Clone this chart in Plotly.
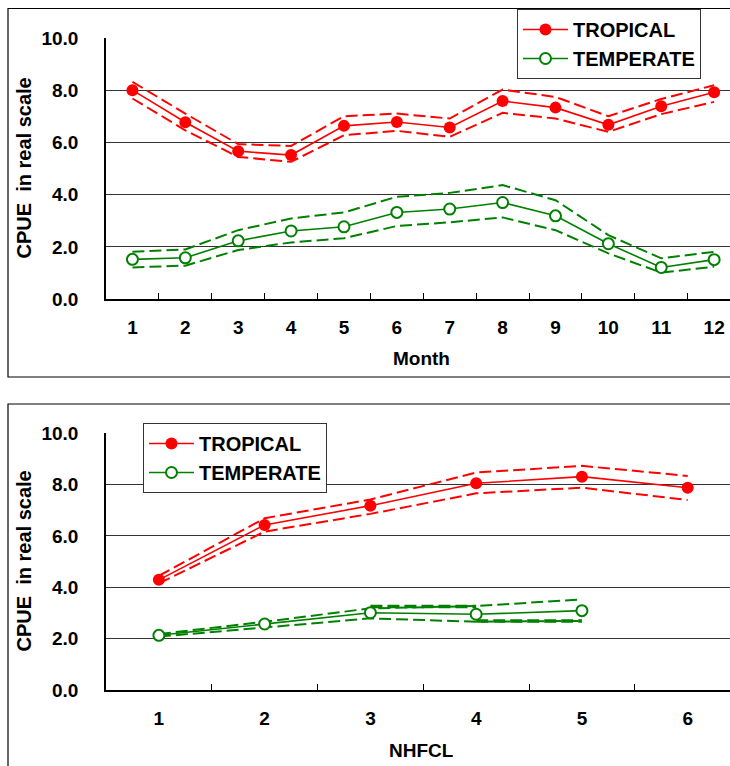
import plotly.graph_objects as go

# ---------------- data ----------------
months = [1, 2, 3, 4, 5, 6, 7, 8, 9, 10, 11, 12]
trop_month = [8.01, 6.78, 5.67, 5.52, 6.64, 6.79, 6.58, 7.59, 7.34, 6.68, 7.39, 7.93]
trop_month_up = [8.33, 7.11, 5.94, 5.87, 7.01, 7.11, 6.92, 8.03, 7.75, 7.01, 7.67, 8.20]
trop_month_lo = [7.69, 6.47, 5.45, 5.26, 6.28, 6.45, 6.22, 7.14, 6.92, 6.41, 7.09, 7.56]
temp_month = [1.52, 1.58, 2.23, 2.61, 2.77, 3.32, 3.45, 3.70, 3.19, 2.12, 1.21, 1.51]
temp_month_up = [1.81, 1.90, 2.64, 3.09, 3.32, 3.92, 4.07, 4.37, 3.79, 2.45, 1.56, 1.81]
temp_month_lo = [1.21, 1.28, 1.88, 2.17, 2.33, 2.80, 2.94, 3.13, 2.64, 1.75, 1.01, 1.24]

nhfcl_trop = [1, 2, 3, 4, 5, 6]
trop_nh = [4.29, 6.43, 7.18, 8.05, 8.31, 7.88]
trop_nh_up = [4.45, 6.69, 7.42, 8.47, 8.73, 8.34]
trop_nh_lo = [4.15, 6.17, 6.86, 7.66, 7.88, 7.40]
nhfcl_temp = [1, 2, 3, 4, 5]
temp_nh = [2.13, 2.57, 3.01, 2.95, 3.09]
temp_nh_up = [2.18, 2.66, 3.18, 3.27, 3.53]
temp_nh_lo = [2.08, 2.44, 2.79, 2.66, 2.69]
temp_nh_extra_up = [None, None, 3.25, 3.25, None]
temp_nh_extra_lo = [None, None, None, 2.69, 2.69]

y_ticks = [0, 2, 4, 6, 8, 10]

RED = "#FF0000"
GREEN = "#008000"
FONT = "Liberation Sans, Arial, sans-serif"
W, H = 730, 766


def px_x(p):
    return p / W


def px_y(p):
    return 1 - p / H


def cat(vals):
    return [str(v) for v in vals]


DASH = "12px,5px"

fig = go.Figure()


def add_panel(xs_r, r, ru, rl, xs_g, g, gu, gl, xa, ya, leg):
    xs_r, xs_g = cat(xs_r), cat(xs_g)
    for xs, ys, col in ((xs_r, ru, RED), (xs_r, rl, RED), (xs_g, gu, GREEN), (xs_g, gl, GREEN)):
        fig.add_trace(go.Scatter(x=xs, y=ys, mode="lines", line=dict(color=col, width=2, dash=DASH),
                                 showlegend=False, xaxis=xa, yaxis=ya, hoverinfo="skip"))
    fig.add_trace(go.Scatter(x=xs_r, y=r, mode="lines+markers", name="TROPICAL",
                             line=dict(color=RED, width=1.6),
                             marker=dict(symbol="circle", size=12, color=RED),
                             legend=leg, xaxis=xa, yaxis=ya))
    fig.add_trace(go.Scatter(x=xs_g, y=g, mode="lines+markers", name="TEMPERATE",
                             line=dict(color=GREEN, width=1.6),
                             marker=dict(symbol="circle", size=11, color="white",
                                         line=dict(width=2, color=GREEN)),
                             legend=leg, xaxis=xa, yaxis=ya))


add_panel(months, trop_month, trop_month_up, trop_month_lo,
          months, temp_month, temp_month_up, temp_month_lo, "x", "y", "legend")

# extra thick dashed segments in lower panel
for ys in (temp_nh_extra_up, temp_nh_extra_lo):
    fig.add_trace(go.Scatter(x=cat(nhfcl_temp), y=ys, mode="lines",
                             line=dict(color=GREEN, width=3.5, dash=DASH),
                             showlegend=False, xaxis="x2", yaxis="y2", hoverinfo="skip"))
add_panel(nhfcl_trop, trop_nh, trop_nh_up, trop_nh_lo,
          nhfcl_temp, temp_nh, temp_nh_up, temp_nh_lo, "x2", "y2", "legend2")

tickfont = dict(family=FONT, size=19, color="black", weight="bold")


def xaxis_cfg(cats, right, anchor):
    return dict(domain=[px_x(106), 1], type="category",
                categoryorder="array", categoryarray=cat(cats),
                range=[-0.5, right], anchor=anchor,
                showgrid=False, zeroline=False, showline=True, linecolor="black", linewidth=1.5,
                tickson="boundaries", ticks="inside", ticklen=6, tickcolor="black", tickwidth=1.2,
                tickfont=tickfont, ticklabelstandoff=10, automargin=False)


def yaxis_cfg(dom, anchor):
    return dict(domain=dom, anchor=anchor, range=[0, 10.01], tickvals=y_ticks, tickformat=".1f",
                showgrid=True, gridcolor="#333333", gridwidth=1, zeroline=False, showline=True,
                linecolor="black", linewidth=1.5, ticks="", tickfont=tickfont,
                ticklabelstandoff=22, automargin=False)


leg_font = dict(family=FONT, size=20, color="black", weight="bold")

fig.update_layout(
    width=W, height=H, margin=dict(l=0, r=0, t=0, b=0, autoexpand=False),
    paper_bgcolor="white", plot_bgcolor="white",
    font=dict(family=FONT, color="black"),
    xaxis=xaxis_cfg(months, 11.30, "y"),
    yaxis=yaxis_cfg([px_y(299), px_y(38)], "x"),
    xaxis2=xaxis_cfg(nhfcl_trop, 5.40, "y2"),
    yaxis2=yaxis_cfg([px_y(690), px_y(433)], "x2"),
    legend=dict(x=px_x(517), y=px_y(9), xanchor="left", yanchor="top",
                bgcolor="white", bordercolor="#333333", borderwidth=1,
                font=leg_font, tracegroupgap=0, itemwidth=45),
    legend2=dict(x=px_x(143), y=px_y(423), xanchor="left", yanchor="top",
                 bgcolor="white", bordercolor="#333333", borderwidth=1,
                 font=leg_font, tracegroupgap=0, itemwidth=45),
    shapes=[
        dict(type="rect", xref="paper", yref="paper", x0=px_x(8), x1=1.05,
             y0=px_y(377), y1=px_y(8.5), line=dict(color="black", width=1.2), layer="below"),
        dict(type="rect", xref="paper", yref="paper", x0=px_x(8), x1=1.05,
             y0=-0.05, y1=px_y(404), line=dict(color="black", width=1.2), layer="below"),
    ],
    annotations=[
        dict(text="CPUE  in real scale", xref="paper", yref="paper", x=px_x(23), y=px_y(168.5),
             xanchor="center", yanchor="middle",
             textangle=-90, showarrow=False, font=dict(family=FONT, size=20, weight="bold")),
        dict(text="CPUE  in real scale", xref="paper", yref="paper", x=px_x(23), y=px_y(561.5),
             xanchor="center", yanchor="middle",
             textangle=-90, showarrow=False, font=dict(family=FONT, size=20, weight="bold")),
        dict(text="Month", xref="paper", yref="paper", x=px_x(422), y=px_y(358),
             xanchor="center", yanchor="middle",
             showarrow=False, font=dict(family=FONT, size=19, weight="bold")),
        dict(text="NHFCL", xref="paper", yref="paper", x=px_x(422), y=px_y(750),
             xanchor="center", yanchor="middle",
             showarrow=False, font=dict(family=FONT, size=19, weight="bold")),
    ],
)

fig.write_html("out.html")
